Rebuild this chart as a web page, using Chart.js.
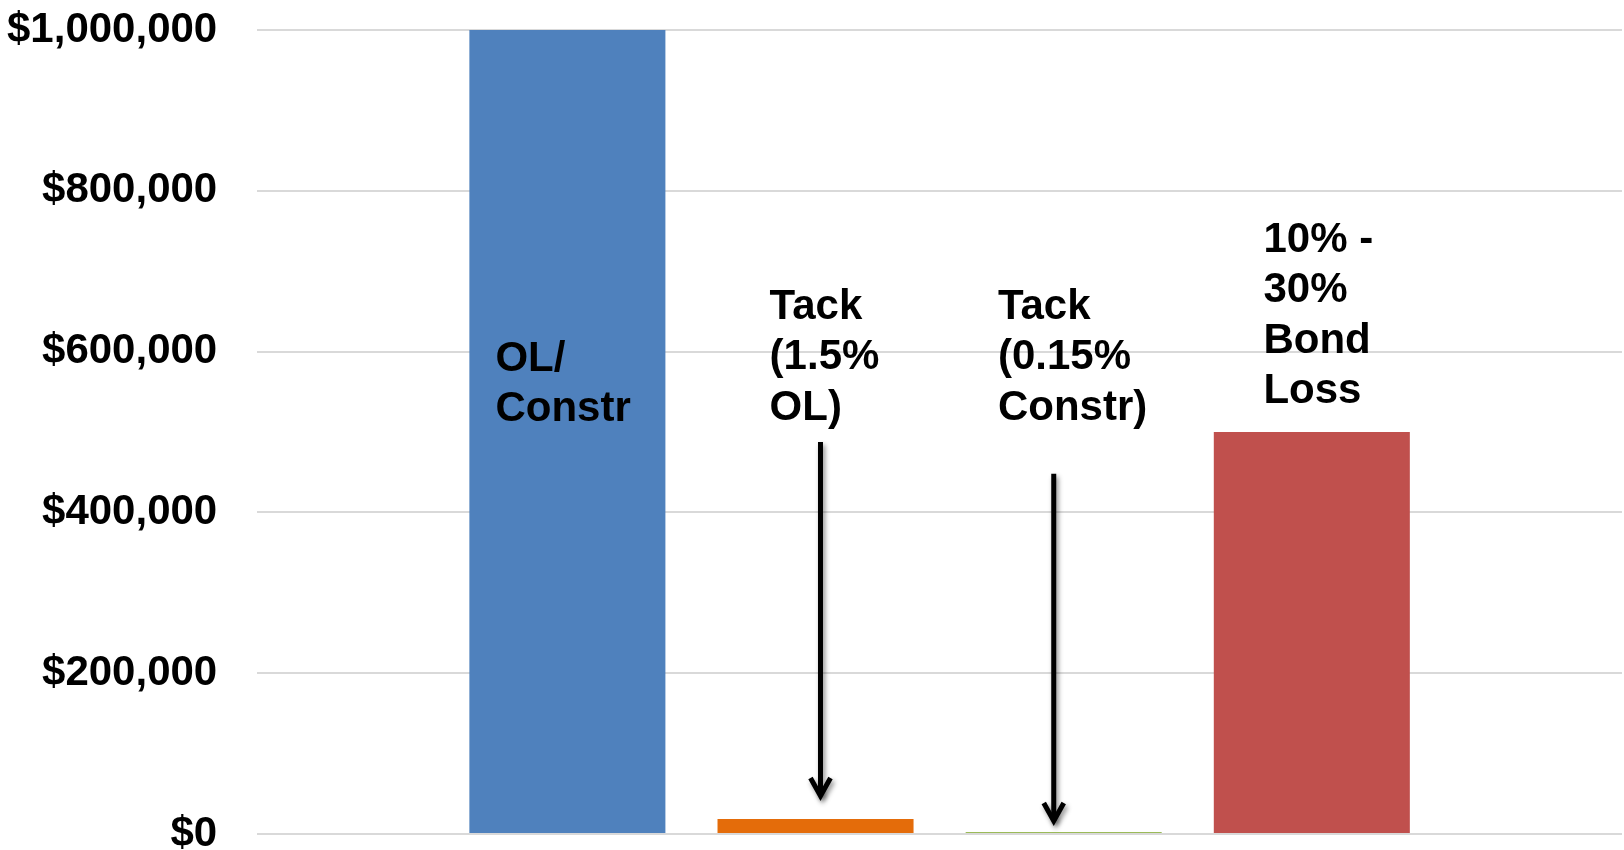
<!DOCTYPE html>
<html>
<head>
<meta charset="utf-8">
<title>Cost comparison</title>
<script src="https://cdn.jsdelivr.net/npm/chart.js@4.4.1/dist/chart.umd.min.js"></script>
<style>
  html, body { margin: 0; padding: 0; background: #ffffff; }
  canvas { display: block; }
</style>
</head>
<body>
<canvas id="chart" width="1624" height="850"></canvas>
<script>
// Cost items, one bar each
const categories = ['OL/ Constr', 'Tack (1.5% OL)', 'Tack (0.15% Constr)', '10% - 30% Bond Loss'];
const costs = [1000000, 18700, 2500, 500000];
const barColors = ['#4F81BD', '#E46C0A', '#9BBB59', '#C0504D'];

// Text printed beside / inside each bar (one entry per line)
const barNotes = [
  ['OL/', 'Constr'],
  ['Tack', '(1.5%', 'OL)'],
  ['Tack', '(0.15%', 'Constr)'],
  ['10% -', '30%', 'Bond', 'Loss']
];
// Note anchor: left edge (category units) and first-line baseline (dollars)
const noteX = [-0.29, 0.815, 1.735, 2.805];
const noteY = [576000, 641000, 641000, 724000];

// Arrows pointing down at the two small tack bars
const arrowX = [1.02, 1.96];
const arrowFrom = [487500, 448000];
const arrowTo = [43600, 12500];

// Value axis
const yTickValues = [0, 200000, 400000, 600000, 800000, 1000000];

const barPositions = categories.map((_, i) => i);
const points = barPositions.map((x, i) => ({ x: x, y: costs[i] }));

const FONT = '"Liberation Sans", Arial, Helvetica, sans-serif';

const notesPlugin = {
  id: 'barNotes',
  afterDatasetsDraw(chart) {
    const ctx = chart.ctx;
    const xs = chart.scales.x, ys = chart.scales.y;

    // arrows
    ctx.save();
    ctx.strokeStyle = '#000000';
    ctx.lineWidth = 5;
    ctx.shadowColor = 'rgba(0,0,0,0.45)';
    ctx.shadowBlur = 5;
    ctx.shadowOffsetX = 2;
    ctx.shadowOffsetY = 3;
    arrowX.forEach((ax, i) => {
      const x = xs.getPixelForValue(ax);
      const y0 = ys.getPixelForValue(arrowFrom[i]);
      const y1 = ys.getPixelForValue(arrowTo[i]);
      ctx.beginPath();
      ctx.lineCap = 'butt';
      ctx.moveTo(x, y0);
      ctx.lineTo(x, y1 - 3);
      ctx.stroke();
      ctx.beginPath();
      ctx.lineJoin = 'miter';
      ctx.moveTo(x - 10, y1 - 21);
      ctx.lineTo(x, y1 - 3);
      ctx.lineTo(x + 10, y1 - 21);
      ctx.stroke();
    });
    ctx.restore();

    // text notes
    ctx.save();
    ctx.fillStyle = '#000000';
    ctx.font = 'bold 42px ' + FONT;
    ctx.textAlign = 'left';
    ctx.textBaseline = 'alphabetic';
    barNotes.forEach((lines, i) => {
      const x = xs.getPixelForValue(noteX[i]);
      const y = ys.getPixelForValue(noteY[i]);
      lines.forEach((t, k) => ctx.fillText(t, x, y + k * 50.5));
    });
    ctx.restore();
  }
};

new Chart(document.getElementById('chart'), {
  type: 'bar',
  data: {
    datasets: [{
      label: 'Cost',
      data: points,
      backgroundColor: barColors,
      borderWidth: 0,
      categoryPercentage: 1,
      barPercentage: 0.79
    }]
  },
  options: {
    responsive: false,
    animation: false,
    devicePixelRatio: 1,
    layout: { padding: { top: 30, bottom: 16, left: 7, right: 2 } },
    plugins: {
      legend: { display: false },
      tooltip: { enabled: false }
    },
    scales: {
      x: {
        type: 'linear',
        min: -1.25,
        max: 4.25,
        offset: false,
        display: false,
        grid: { offset: false },
        afterBuildTicks(scale) {
          scale.ticks = barPositions.map(v => ({ value: v }));
        }
      },
      y: {
        min: 0,
        max: 1000000,
        afterBuildTicks(scale) {
          scale.ticks = yTickValues.map(v => ({ value: v }));
        },
        border: { display: false },
        grid: {
          color: '#d9d9d9',
          lineWidth: 2,
          drawTicks: true,
          tickLength: 40,
          tickColor: 'rgba(0,0,0,0)'
        },
        ticks: {
          padding: 0,
          color: '#000000',
          font: { family: FONT, size: 42, weight: 'bold', lineHeight: 0.7 },
          callback: v => '$' + Number(v).toLocaleString('en-US')
        }
      }
    }
  },
  plugins: [notesPlugin]
});
</script>
</body>
</html>
